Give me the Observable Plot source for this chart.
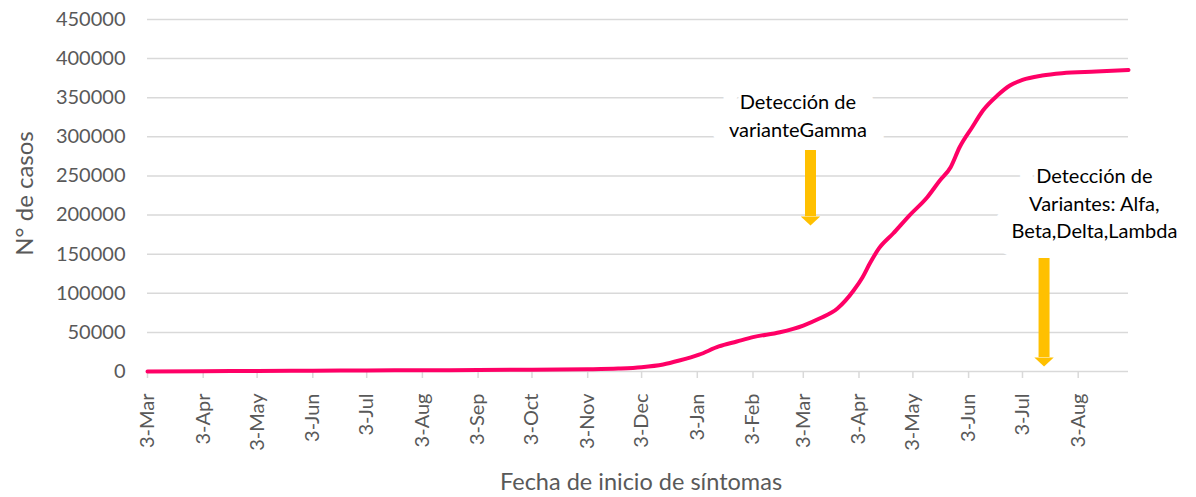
<!DOCTYPE html>
<html><head><meta charset="utf-8">
<script src="https://cdn.jsdelivr.net/npm/d3@7"></script>
<script src="https://cdn.jsdelivr.net/npm/@observablehq/plot@0.6"></script>
<style>body{margin:0;background:#fff}</style>
</head><body><div id="chart"></div>
<script>
const dates = ["2020-03-03","2020-04-03","2020-05-03","2020-06-03","2020-07-03","2020-08-03","2020-09-03","2020-10-03","2020-11-03","2020-11-20","2020-12-03","2020-12-15","2020-12-24","2021-01-04","2021-01-15","2021-01-25","2021-02-03","2021-02-18","2021-03-03","2021-03-12","2021-03-22","2021-03-31","2021-04-05","2021-04-09","2021-04-14","2021-04-22","2021-05-01","2021-05-11","2021-05-18","2021-05-24","2021-05-29","2021-06-05","2021-06-11","2021-06-19","2021-06-26","2021-07-03","2021-07-14","2021-07-25","2021-08-13","2021-08-31"];
const cases = [0,300,700,1000,1300,1600,1900,2300,2900,3800,5500,9000,14000,21500,32000,38300,43900,50200,58800,67700,80500,103500,120500,138000,157000,176400,199400,222800,244200,261200,286700,312300,333700,352800,365600,372800,378400,381400,383500,385500];
const tickDates = ["2020-03-03","2020-04-03","2020-05-03","2020-06-03","2020-07-03","2020-08-03","2020-09-03","2020-10-03","2020-11-03","2020-12-03","2021-01-03","2021-02-03","2021-03-03","2021-04-03","2021-05-03","2021-06-03","2021-07-03","2021-08-03"];
const yTicks = [0,50000,100000,150000,200000,250000,300000,350000,400000,450000];
const xDomain = ["2020-03-03","2021-08-31"];
const xTitle = "Fecha de inicio de síntomas";
const yTitle = "N° de casos";
const annotDates = ["2021-03-07","2021-07-15"];
const annotTextDates = ["2021-02-28","2021-08-12"];
const annotLabels = ["Detección de\nvarianteGamma","Detección de\nVariantes: Alfa,\nBeta,Delta,Lambda"];
const annotTextY = [329000, 217000];
const arrowTop = [282500, 144500];
const arrowTip = [186500, 6400];

const P = d => new Date(d + "T00:00:00Z");
const series = dates.map((d,i) => ({date: P(d), value: cases[i]}));
const annots = annotDates.map((d,i) => ({date: P(d), tdate: P(annotTextDates[i]), label: annotLabels[i], ty: annotTextY[i], top: arrowTop[i], tip: arrowTip[i]}));
const ticks = tickDates.map(P);
const fmt = d3.utcFormat("%-d-%b");

const head = {draw(ctx, l) { ctx.moveTo(-9.7, 0); ctx.lineTo(9.7, 0); ctx.lineTo(0, -l); ctx.closePath(); }};
const textOpts = {x: "tdate", y: "ty", text: "label", lineHeight: 1.37, fontSize: 20};

const chart = Plot.plot({
  width: 1196, height: 497,
  marginLeft: 147, marginRight: 68, marginTop: 19, marginBottom: 126,
  style: {fontFamily: "Lato, sans-serif", fontSize: "20px", color: "#595959", background: "#fff", overflow: "visible"},
  x: {type: "utc", domain: xDomain.map(P)},
  y: {domain: [0, 450000]},
  marks: [
    Plot.gridY(yTicks, {stroke: "#d9d9d9", strokeOpacity: 1, strokeWidth: 1.5}),
    Plot.axisX(ticks, {tickSize: 7, stroke: "#d9d9d9", strokeWidth: 1.5, tickFormat: () => "", label: null}),
    Plot.axisX(ticks, {tickSize: 0, tickPadding: 22, tickRotate: -90, tickFormat: fmt, fill: "#595959", fontSize: 20, label: null}),
    Plot.axisY(yTicks, {tickSize: 0, tickPadding: 22, tickFormat: d => String(d), fill: "#595959", fontSize: 20, label: null}),
    Plot.text([xTitle], {frameAnchor: "bottom", dx: 3, dy: 111, lineAnchor: "middle", fill: "#595959", fontSize: 23.5}),
    Plot.text([yTitle], {frameAnchor: "left", dx: -122, dy: -2, rotate: -90, lineAnchor: "middle", textAnchor: "middle", fill: "#595959", fontSize: 24}),
    Plot.text(annots, {...textOpts, fill: "#fff", stroke: "#fff", strokeWidth: 36, strokeLinejoin: "round"}),
    Plot.text(annots, {...textOpts, fill: "#000"}),
    Plot.line(series, {x: "date", y: "value", stroke: "#ff0066", strokeWidth: 4, curve: "monotone-x"}),
    Plot.ruleX(annots, {x: "date", y1: "top", y2: "tip", stroke: "#ffc000", strokeWidth: 11, insetBottom: 9}),
    Plot.vector(annots, {x: "date", y: "tip", length: 9, rotate: 180, anchor: "end", shape: head, fill: "#ffc000", stroke: "none"})
  ]
});
document.getElementById("chart").appendChild(chart);
</script>
</body></html>
